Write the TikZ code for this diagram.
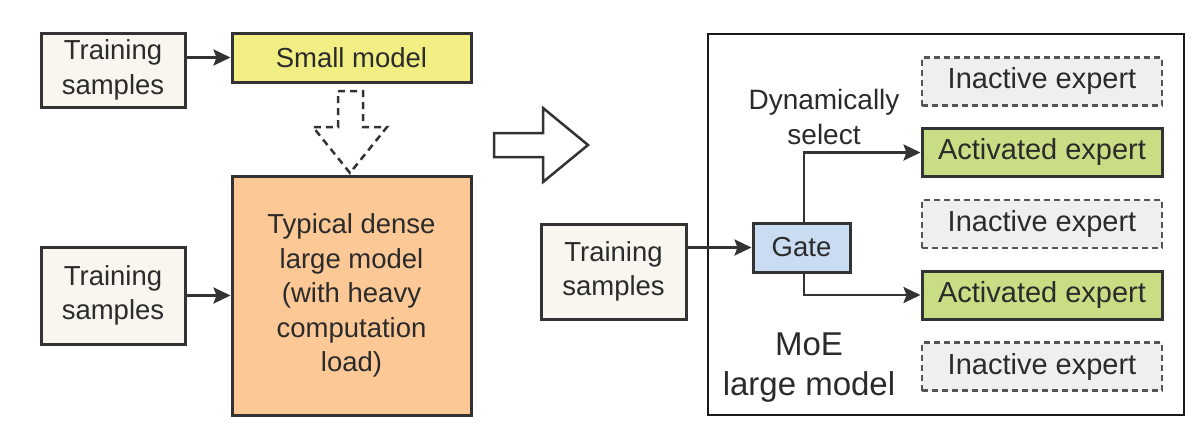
\documentclass[tikz,border=0pt]{standalone}
\usepackage{fontspec}
\setmainfont{Liberation Sans}
\usetikzlibrary{arrows.meta}
\definecolor{edgec}{HTML}{333333}
\definecolor{txtc}{HTML}{2B2B2B}
\definecolor{tsfill}{HTML}{F8F6EF}
\definecolor{smallfill}{HTML}{F1EE84}
\definecolor{densefill}{HTML}{FCC896}
\definecolor{gatefill}{HTML}{C9DCF1}
\definecolor{actfill}{HTML}{C8DD84}
\definecolor{inactfill}{HTML}{EFEFEF}
\definecolor{inactedge}{HTML}{555555}
\newcommand\mainsz{\fontsize{27.5}{34.5}\selectfont}
\newcommand\expsz{\fontsize{29}{35}\selectfont}
\newcommand\moesz{\fontsize{33}{40}\selectfont}
\begin{document}
\begin{tikzpicture}[x=1pt,y=-1pt,
  box/.style={draw=edgec, line width=3pt, inner sep=0pt, align=center, text=txtc, font=\mainsz},
  tsbox/.style={box, fill=tsfill},
  inact/.style={box, draw=inactedge, fill=inactfill, line width=2.5pt, dash pattern=on 6pt off 4pt, minimum width=240pt, minimum height=48pt, font=\expsz},
  act/.style={box, fill=actfill, minimum width=240pt, minimum height=48pt, font=\expsz},
  conn/.style={draw=edgec, line width=2.6pt, -{Stealth[length=17pt,width=16pt,inset=3pt]}},
  hollow/.style={draw=edgec, line width=2.5pt, fill=white, line join=miter},
  lbl/.style={inner sep=0pt, align=center, text=txtc}]
\fill[white] (0,0) rectangle (1202,431);
\useasboundingbox (0,0) rectangle (1202,431);

% left part
\node[tsbox, minimum width=144pt, minimum height=74pt] (ts1) at (113,70) {Training\\samples};
\node[box, fill=smallfill, minimum width=239pt, minimum height=49pt] (small) at (351.5,57.5) {Small model};
\node[box, fill=densefill, minimum width=239pt, minimum height=239pt] (dense) at (351.5,295.5) {Typical dense\\large model\\(with heavy\\computation\\load)};
\node[tsbox, minimum width=144pt, minimum height=97pt] (ts2) at (113,295.5) {Training\\samples};
\draw[conn] (ts1.east |- small.west) -- (small.west);
\draw[conn] (ts2.east) -- (dense.west);

% dashed hollow arrow
\draw[draw=edgec, line width=2.5pt, dash pattern=on 7pt off 5pt, line join=miter]
  (338,91) -- (363,91) -- (363,127) -- (387,127) -- (350,173) -- (313,127) -- (338,127) -- cycle;

% big hollow arrow
\draw[hollow] (494,133) -- (543,133) -- (543,108) -- (588,145) -- (543,182) -- (543,157) -- (494,157) -- cycle;

% MoE part
\draw[draw=black!90, line width=2.6pt] (708,34) rectangle (1184,415);
\node[inact] (in1) at (1042,81.5) {Inactive expert};
\node[act] (ac1) at (1042,152.5) {Activated expert};
\node[inact] (in2) at (1042,224) {Inactive expert};
\node[act] (ac2) at (1042,295) {Activated expert};
\node[inact] (in3) at (1042,366.5) {Inactive expert};
\node[tsbox, minimum width=145pt, minimum height=95pt] (ts3) at (613.5,271.5) {Training\\samples};
\node[box, fill=gatefill, minimum width=97pt, minimum height=49pt] (gate) at (801.5,247.5) {Gate};
\node[lbl, font=\fontsize{28}{35}\selectfont] (dyn) at (824,117) {Dynamically\\select};
\node[lbl, font=\moesz] (moe) at (809,368) {MoE\\large model};
\draw[conn] (ts3.east |- gate.west) -- (gate.west);
\draw[conn] ([xshift=2.5pt]gate.north) |- (ac1.west);
\draw[conn] ([xshift=2.5pt]gate.south) |- (ac2.west);
\end{tikzpicture}
\end{document}
